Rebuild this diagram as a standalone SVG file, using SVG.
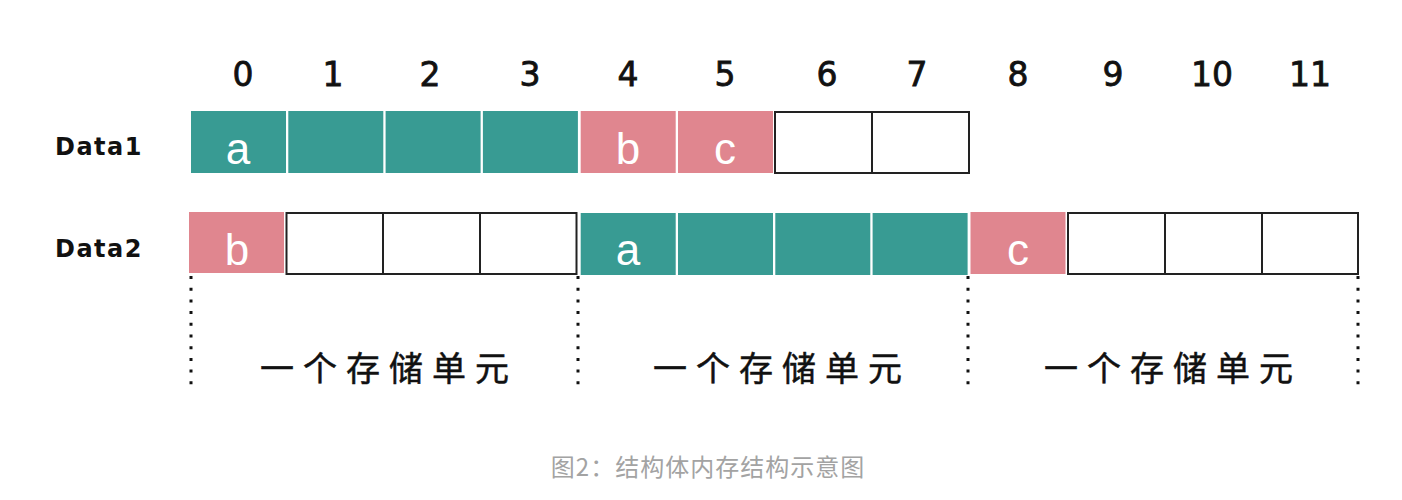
<svg xmlns="http://www.w3.org/2000/svg" width="1402" height="500" viewBox="0 0 1402 500">
<style>
.teal{fill:#389b93}
.pink{fill:#e0868f}
.empty{fill:#fff;stroke:#222;stroke-width:2}
.div{stroke:#222;stroke-width:2}
.cl{font-family:"Liberation Sans",Arial,sans-serif;font-size:44px;fill:#fff;text-anchor:middle}
.num{font-family:"DejaVu Sans","Noto Sans",sans-serif;font-size:33px;fill:#111;stroke:#111;stroke-width:0.8;text-anchor:middle}
.lbl{font-family:"DejaVu Sans","Noto Sans",sans-serif;font-size:24px;font-weight:bold;fill:#111;letter-spacing:1.5px}
.unit{font-family:"Noto Sans CJK SC",sans-serif;font-size:34px;fill:#111;stroke:#111;stroke-width:0.5;text-anchor:middle;letter-spacing:9px}
.cap{font-family:"Noto Sans CJK SC",sans-serif;font-size:24px;fill:#a3a3a3;text-anchor:middle;letter-spacing:1px}
.dot{stroke:#111;stroke-width:3;stroke-dasharray:3 8.7;fill:none}
</style>
<rect width="1402" height="500" fill="#fff"/>
<g id="indices">
<text class="num" x="243" y="86">0</text>
<text class="num" x="333" y="86">1</text>
<text class="num" x="430" y="86">2</text>
<text class="num" x="530" y="86">3</text>
<text class="num" x="628" y="86">4</text>
<text class="num" x="725" y="86">5</text>
<text class="num" x="827" y="86">6</text>
<text class="num" x="917" y="86">7</text>
<text class="num" x="1018" y="86">8</text>
<text class="num" x="1113" y="86">9</text>
<text class="num" x="1212" y="86">10</text>
<text class="num" x="1310" y="86">11</text>
</g>
<g id="data1">
<text class="lbl" x="55" y="155">Data1</text>
<rect class="teal" x="191" y="111" width="95" height="62"/>
<rect class="teal" x="288.3" y="111" width="95" height="62"/>
<rect class="teal" x="385.6" y="111" width="95" height="62"/>
<rect class="teal" x="482.9" y="111" width="95" height="62"/>
<rect class="pink" x="580.7" y="111" width="95" height="62"/>
<rect class="pink" x="678" y="111" width="95" height="62"/>
<rect class="empty" x="775" y="112" width="194" height="61"/>
<line class="div" x1="872" y1="112" x2="872" y2="173"/>
<text class="cl" x="238" y="164">a</text>
<text class="cl" x="628" y="164">b</text>
<text class="cl" x="725" y="164">c</text>
</g>
<g id="data2">
<text class="lbl" x="55" y="257">Data2</text>
<rect class="pink" x="189" y="212" width="95" height="61"/>
<rect class="empty" x="286.5" y="213" width="290" height="61"/>
<line class="div" x1="383" y1="213" x2="383" y2="274"/>
<line class="div" x1="480" y1="213" x2="480" y2="274"/>
<rect class="teal" x="580.7" y="213" width="95" height="62"/>
<rect class="teal" x="678" y="213" width="95" height="62"/>
<rect class="teal" x="775.3" y="213" width="95" height="62"/>
<rect class="teal" x="872.6" y="213" width="95" height="62"/>
<rect class="pink" x="970.5" y="212" width="95" height="62"/>
<rect class="empty" x="1068" y="213" width="290" height="61"/>
<line class="div" x1="1165" y1="213" x2="1165" y2="274"/>
<line class="div" x1="1262" y1="213" x2="1262" y2="274"/>
<text class="cl" x="237" y="265">b</text>
<text class="cl" x="628" y="265">a</text>
<text class="cl" x="1018" y="265">c</text>
</g>
<g id="dividers">
<line class="dot" x1="191" y1="276" x2="191" y2="390"/>
<line class="dot" x1="578" y1="276" x2="578" y2="390"/>
<line class="dot" x1="968" y1="276" x2="968" y2="390"/>
<line class="dot" x1="1358" y1="276" x2="1358" y2="390"/>
</g>
<g id="units">
<text class="unit" x="389" y="381">一个存储单元</text>
<text class="unit" x="782" y="381">一个存储单元</text>
<text class="unit" x="1173" y="381">一个存储单元</text>
</g>
<g id="caption">
<text class="cap" x="708" y="476">图2：结构体内存结构示意图</text>
</g>
</svg>
